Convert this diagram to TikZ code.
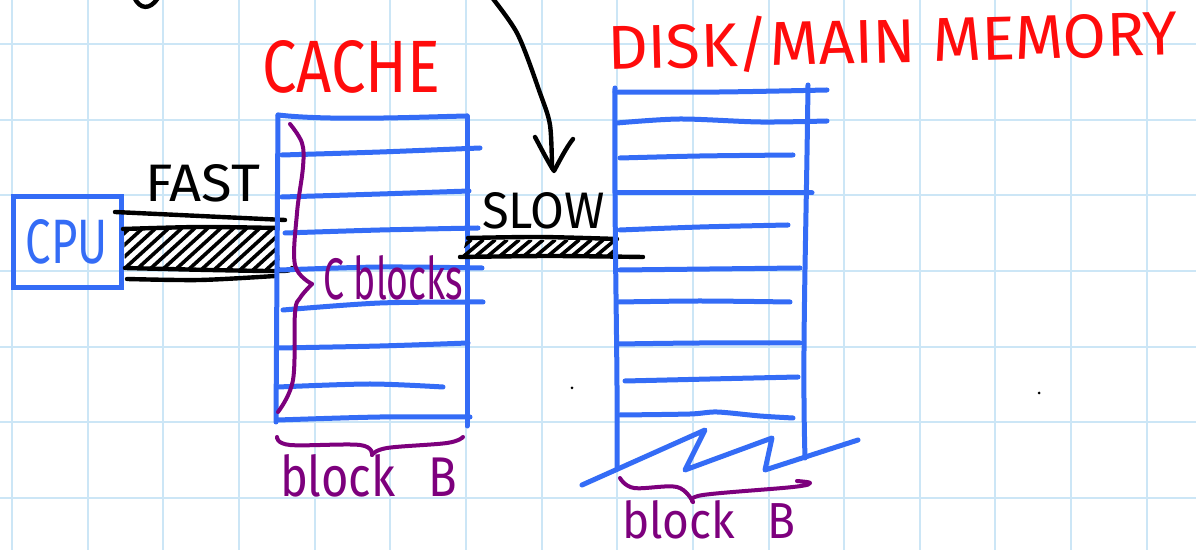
\documentclass[tikz,border=0pt]{standalone}
\usepackage{fontspec}
\setmainfont{Fira Sans}
\definecolor{inkblue}{RGB}{52,108,246}
\definecolor{inkred}{RGB}{255,12,12}
\definecolor{inkpurple}{RGB}{125,0,125}
\definecolor{gridblue}{RGB}{204,230,246}
\newlength\pxu
\setlength\pxu{0.5pt}
% text stretched to a given width and height (in picture units)
\newcommand\handtext[3]{\resizebox{#1\pxu}{#2\pxu}{#3}}
\tikzset{
  pen/.style={line cap=round, line join=round},
  bluepen/.style={pen, line width=2.5pt, draw=inkblue},
  blackpen/.style={pen, line width=2.2pt, draw=black},
  purplepen/.style={pen, line width=2pt, draw=inkpurple},
  hatchpen/.style={pen, line width=1.8pt, draw=black},
  gridline/.style={draw=gridblue, line width=1pt},
  hand/.style={anchor=base west, inner sep=0pt, outer sep=0pt},
}
\begin{document}
\begin{tikzpicture}[x=0.5pt, y=-0.5pt]
\useasboundingbox (0,0) rectangle (1196,550);
\fill[white] (0,0) rectangle (1196,550);

% squared paper
\foreach \k in {0,...,15} \draw[gridline] ({12+75.65*\k},0) -- ({12+75.65*\k},550);
\foreach \k in {0,...,6} \draw[gridline] (0,{44.3+75.6*\k}) -- (1196,{44.3+75.6*\k});

% pointer coming in from above the sheet
\begin{scope}
  \clip (0,0) rectangle (1196,550);
  \draw[blackpen] (134,-3) .. controls (140,10) and (150,10) .. (158,-2);
  \draw[blackpen] plot[smooth] coordinates {(486,-10) (517,33) (540,93) (550,125) (552,168)};
\end{scope}
\draw[blackpen] (535,137) .. controls (542,150) and (548,162) .. (554,171) .. controls (560,160) and (566,148) .. (573,139);

% CPU
\node[draw=inkblue, line width=2.5pt, minimum width=54pt, minimum height=45.5pt,
      inner sep=0pt, text=inkblue] (cpu) at (67,242) {\handtext{82}{44}{CPU}};

% fast bus between CPU and cache
\begin{scope}
  \clip (124,229) -- (278,228) -- (280,270) -- (125,268) -- cycle;
  \foreach \x in {84,97,...,280} \draw[hatchpen] (\x,270) -- ++(46,-42);
\end{scope}
\draw[blackpen] plot[smooth] coordinates {(115,212) (200,216) (285,220)};
\draw[blackpen] plot[smooth] coordinates {(123,229) (200,227) (277,228)};
\draw[blackpen] plot[smooth] coordinates {(125,268) (210,270) (282,271) (292,268)};
\draw[blackpen] plot[smooth] coordinates {(127,279) (200,280) (275,276)};
\node[hand] (fast) at (145,202) {\handtext{115}{37}{FAST}};

% cache
\coordinate (cacheNW) at (278,115);
\coordinate (cacheNE) at (467,116);
\coordinate (cacheSW) at (276,422);
\coordinate (cacheSE) at (467,426);
\draw[bluepen] (cacheNW) .. controls (330,121) and (420,117) .. (cacheNE);
\draw[bluepen] (cacheNW) -- (cacheSW);
\draw[bluepen] (cacheNE) -- (cacheSE);
\draw[bluepen] plot[smooth] coordinates {(282,155) (380,152) (480,148)};
\draw[bluepen] plot[smooth] coordinates {(282,197) (380,194) (469,191)};
\draw[bluepen] plot[smooth] coordinates {(285,233) (380,230) (478,228)};
\draw[bluepen] plot[smooth] coordinates {(280,270) (380,267) (482,268)};
\draw[bluepen] plot[smooth] coordinates {(283,310) (380,303) (483,302)};
\draw[bluepen] plot[smooth] coordinates {(278,348) (380,346) (468,343)};
\draw[bluepen] plot[smooth] coordinates {(278,387) (370,384) (443,387)};
\draw[bluepen] plot[smooth] coordinates {(278,420) (380,417) (470,417)};

% brace over the cache rows
\draw[purplepen] plot[smooth, tension=0.6] coordinates {(290,124) (302,143) (303,167) (297,213) (295,265) (312,284)};
\draw[purplepen] plot[smooth, tension=0.6] coordinates {(312,284) (300,298) (295,313) (293,380) (278,412)};
\node[hand, text=inkpurple] (cblocks) at (323,300) {\handtext{140}{44}{C blocks}};

% brace under the cache
\draw[purplepen] plot[smooth, tension=0.6] coordinates {(277,437) (290,445) (360,445) (372,455)};
\draw[purplepen] plot[smooth, tension=0.6] coordinates {(372,455) (387,448) (447,443) (463,437)};
\node[hand, text=inkpurple] (cacheB) at (280,497) {\handtext{177}{42}{block\hspace{0.7em}B}};

% slow bus between cache and disk
\begin{scope}
  \clip (466,240) -- (615,240) -- (615,255) -- (462,256) -- cycle;
  \foreach \x in {440,452,...,620} \draw[hatchpen] (\x,256) -- ++(19,-16);
\end{scope}
\draw[blackpen] plot[smooth] coordinates {(468,238) (540,237) (617,239)};
\draw[blackpen] plot[smooth] coordinates {(460,257) (550,256) (643,257)};
\node[hand] (slow) at (482,229) {\handtext{123}{36}{SLOW}};

% disk / main memory
\coordinate (diskNW) at (615,88);
\coordinate (diskNE) at (808,85);
\coordinate (diskSW) at (617,468);
\coordinate (diskSE) at (805,458);
\draw[bluepen] (diskNW) .. controls (614,250) and (618,350) .. (diskSW);
\draw[bluepen] (diskNE) .. controls (806,250) and (802,350) .. (diskSE);
\draw[bluepen] plot[smooth] coordinates {(615,92) (720,92) (827,90)};
\draw[bluepen] plot[smooth] coordinates {(617,123) (680,119) (760,122) (827,121)};
\draw[bluepen] plot[smooth] coordinates {(620,158) (700,156) (793,155)};
\draw[bluepen] plot[smooth] coordinates {(617,193) (720,193) (812,193)};
\draw[bluepen] plot[smooth] coordinates {(620,230) (700,227) (788,225)};
\draw[bluepen] plot[smooth] coordinates {(620,270) (710,269) (800,268)};
\draw[bluepen] plot[smooth] coordinates {(619,302) (700,301) (790,302)};
\draw[bluepen] plot[smooth] coordinates {(618,344) (700,343) (800,343)};
\draw[bluepen] plot[smooth] coordinates {(625,381) (710,379) (798,377)};
\draw[bluepen] plot[smooth] coordinates {(620,415) (690,414) (717,412) (760,416) (793,418)};
\draw[bluepen] (582,485) -- (705,430) -- (685,470) -- (772,438) -- (765,470) -- (858,440);

% brace under the disk
\draw[purplepen] plot[smooth, tension=0.6] coordinates {(620,478) (634,488) (677,487) (693,502)};
\draw[purplepen] plot[smooth, tension=0.6] coordinates {(693,502) (703,495) (793,487) (810,483) (797,481)};
\node[hand, text=inkpurple] (diskB) at (622,539) {\handtext{173}{38}{block\hspace{0.7em}B}};

% titles
\node[hand, text=inkred] (cacheTitle) at (262,93) {\handtext{178}{52}{CACHE}};
\node[hand, text=inkred, rotate=1.5] (diskTitle) at (608,70) {\handtext{570}{50}{DISK/MAIN MEMORY}};

% stray pen dots
\fill (572,388) circle (1.5);
\fill (1039,393) circle (1.5);
\end{tikzpicture}
\end{document}
